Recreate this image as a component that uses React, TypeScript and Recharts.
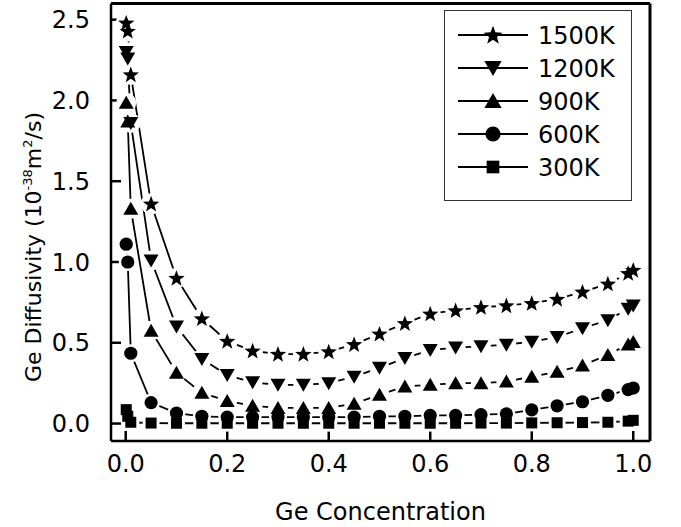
import { LineChart, Line, XAxis, YAxis, Legend, ReferenceLine } from 'recharts';

// Ge concentration (x) and diffusivity in 1e-38 m^2/s for each temperature
const conc = [0.001, 0.004, 0.01, 0.05, 0.1, 0.15, 0.2, 0.25, 0.3, 0.35, 0.4, 0.45, 0.5, 0.55, 0.6, 0.65, 0.7, 0.75, 0.8, 0.85, 0.9, 0.95, 0.99, 1.0];
const d1500 = [2.48, 2.43, 2.16, 1.36, 0.9, 0.65, 0.51, 0.45, 0.43, 0.43, 0.445, 0.49, 0.555, 0.62, 0.68, 0.7, 0.72, 0.73, 0.745, 0.77, 0.815, 0.865, 0.93, 0.95];
const d1200 = [2.3, 2.26, 1.86, 1.01, 0.6, 0.4, 0.3, 0.255, 0.24, 0.24, 0.25, 0.29, 0.345, 0.405, 0.455, 0.47, 0.478, 0.488, 0.507, 0.535, 0.59, 0.64, 0.71, 0.73];
const d900 = [1.985, 1.87, 1.33, 0.575, 0.315, 0.19, 0.14, 0.11, 0.097, 0.097, 0.097, 0.123, 0.178, 0.23, 0.24, 0.25, 0.25, 0.26, 0.29, 0.32, 0.36, 0.425, 0.49, 0.505];
const d600 = [1.11, 1.0, 0.435, 0.13, 0.065, 0.045, 0.04, 0.04, 0.04, 0.04, 0.04, 0.04, 0.045, 0.045, 0.05, 0.05, 0.055, 0.06, 0.085, 0.11, 0.135, 0.175, 0.21, 0.22];
const d300 = [0.086, 0.045, 0.008, 0.003, 0.002, 0.002, 0.002, 0.002, 0.002, 0.002, 0.002, 0.002, 0.002, 0.002, 0.002, 0.002, 0.003, 0.003, 0.004, 0.005, 0.006, 0.008, 0.015, 0.02];

const xTicks = [0, 0.2, 0.4, 0.6, 0.8, 1.0];
const yTicks = [0, 0.5, 1.0, 1.5, 2.0, 2.5];
const xDomain = [-0.029, 1.033];
const yDomain = [-0.108, 2.6];

type Shape = 'star' | 'down' | 'up' | 'circle' | 'square';

const series: { key: string; name: string; shape: Shape }[] = [
  { key: 'k1500', name: '1500K', shape: 'star' },
  { key: 'k1200', name: '1200K', shape: 'down' },
  { key: 'k900', name: '900K', shape: 'up' },
  { key: 'k600', name: '600K', shape: 'circle' },
  { key: 'k300', name: '300K', shape: 'square' },
];

const data = conc.map((x, i) => ({
  x,
  k1500: d1500[i],
  k1200: d1200[i],
  k900: d900[i],
  k600: d600[i],
  k300: d300[i],
}));

const FONT = '"DejaVu Sans", Verdana, sans-serif';
const HALO: Record<Shape, number> = { star: 10.5, down: 10, up: 10, circle: 9, square: 8.5 };

function Marker({ shape, cx, cy, k = 1, fill = '#000' }: { shape: Shape; cx: number; cy: number; k?: number; fill?: string }) {
  if (shape === 'star') {
    const pts: string[] = [];
    for (let i = 0; i < 10; i++) {
      const r = i % 2 === 0 ? 8.6 * k : 3.6 * k;
      const a = -Math.PI / 2 + (i * Math.PI) / 5;
      pts.push(`${cx + r * Math.cos(a)},${cy + 0.6 * k + r * Math.sin(a)}`);
    }
    return <polygon points={pts.join(' ')} fill={fill} />;
  }
  if (shape === 'down') {
    return <polygon points={`${cx - 7.5 * k},${cy - 6 * k} ${cx + 7.5 * k},${cy - 6 * k} ${cx},${cy + 7 * k}`} fill={fill} />;
  }
  if (shape === 'up') {
    return <polygon points={`${cx - 7.5 * k},${cy + 6 * k} ${cx + 7.5 * k},${cy + 6 * k} ${cx},${cy - 7 * k}`} fill={fill} />;
  }
  if (shape === 'circle') {
    return <circle cx={cx} cy={cy} r={6.6 * k} fill={fill} />;
  }
  return <rect x={cx - 5.5 * k} y={cy - 5.5 * k} width={11 * k} height={11 * k} fill={fill} />;
}

function YLabel() {
  return (
    <text
      transform="rotate(-90)"
      x={-247}
      y={41}
      textAnchor="middle"
      fontFamily={FONT}
      fontSize={22}
      fill="#000"
    >
      Ge Diffusivity (10
      <tspan dy={-9} fontSize={13}>-38</tspan>
      <tspan dy={9}>m</tspan>
      <tspan dy={-9} fontSize={13}>2</tspan>
      <tspan dy={9}>/s)</tspan>
    </text>
  );
}

function XLabel() {
  return (
    <text x={380.5} y={520} textAnchor="middle" fontFamily={FONT} fontSize={24} fill="#000">
      Ge Concentration
    </text>
  );
}

function LegendBox() {
  return (
    <div style={{ width: 188, height: 191, border: '1.5px solid #333', boxSizing: 'border-box', background: '#fff' }}>
      <svg width={185} height={188} style={{ display: 'block' }}>
        {series.map((s, i) => {
          const cy = 24 + i * 33;
          return (
            <g key={s.key}>
              <line x1={13} x2={83} y1={cy} y2={cy} stroke="#000" strokeWidth={1.8} />
              <Marker shape={s.shape} cx={48} cy={cy} k={1.15} />
              <text x={93} y={cy + 8.7} fontFamily={FONT} fontSize={24} fill="#000">
                {s.name}
              </text>
            </g>
          );
        })}
      </svg>
    </div>
  );
}

export default function App() {
  const axisStroke = { stroke: '#000', strokeWidth: 2.5 };
  const tickStyle = { fill: '#000', fontSize: 24, fontFamily: FONT };
  return (
    <div style={{ position: 'absolute', left: 0, top: 0, background: '#fff' }}>
      <LineChart width={681} height={527} data={data} margin={{ top: 3.5, right: 31, bottom: 26, left: 31 }}>
        <XAxis
          dataKey="x"
          type="number"
          domain={xDomain}
          ticks={xTicks}
          allowDataOverflow
          tickFormatter={(v: number) => v.toFixed(1)}
          tick={tickStyle}
          tickSize={-10}
          tickMargin={24}
          axisLine={axisStroke}
          tickLine={axisStroke}
          height={60}
          label={<XLabel />}
        />
        <YAxis
          type="number"
          domain={yDomain}
          ticks={yTicks}
          allowDataOverflow
          tickFormatter={(v: number) => v.toFixed(1)}
          tick={tickStyle}
          tickSize={-10}
          tickMargin={31}
          axisLine={axisStroke}
          tickLine={axisStroke}
          width={80}
          label={<YLabel />}
        />
        {/* top and right frame */}
        <ReferenceLine y={yDomain[1]} stroke="#000" strokeWidth={3} />
        <ReferenceLine x={xDomain[1]} stroke="#000" strokeWidth={3} />

        {series.map((s) => (
          <Line
            key={s.key}
            dataKey={s.key}
            name={s.name}
            type="linear"
            stroke="#000"
            strokeWidth={1.8}
            dot={false}
            activeDot={false}
            isAnimationActive={false}
          />
        ))}
        {series.map((s) => (
          <Line
            key={s.key + '-halo'}
            dataKey={s.key}
            type="linear"
            stroke="none"
            legendType="none"
            activeDot={false}
            isAnimationActive={false}
            dot={(p: any) => <circle key={p.index} cx={p.cx} cy={p.cy} r={HALO[s.shape]} fill="#fff" />}
          />
        ))}
        {series.map((s) => (
          <Line
            key={s.key + '-mark'}
            dataKey={s.key}
            type="linear"
            stroke="none"
            legendType="none"
            activeDot={false}
            isAnimationActive={false}
            dot={(p: any) => (
              <g key={p.index}>
                <Marker shape={s.shape} cx={p.cx} cy={p.cy} />
              </g>
            )}
          />
        ))}

        <Legend
          layout="horizontal"
          verticalAlign="middle"
          align="center"
          content={<LegendBox />}
          wrapperStyle={{ left: 444, top: 9.5, width: 188, height: 191 }}
        />
      </LineChart>
    </div>
  );
}
